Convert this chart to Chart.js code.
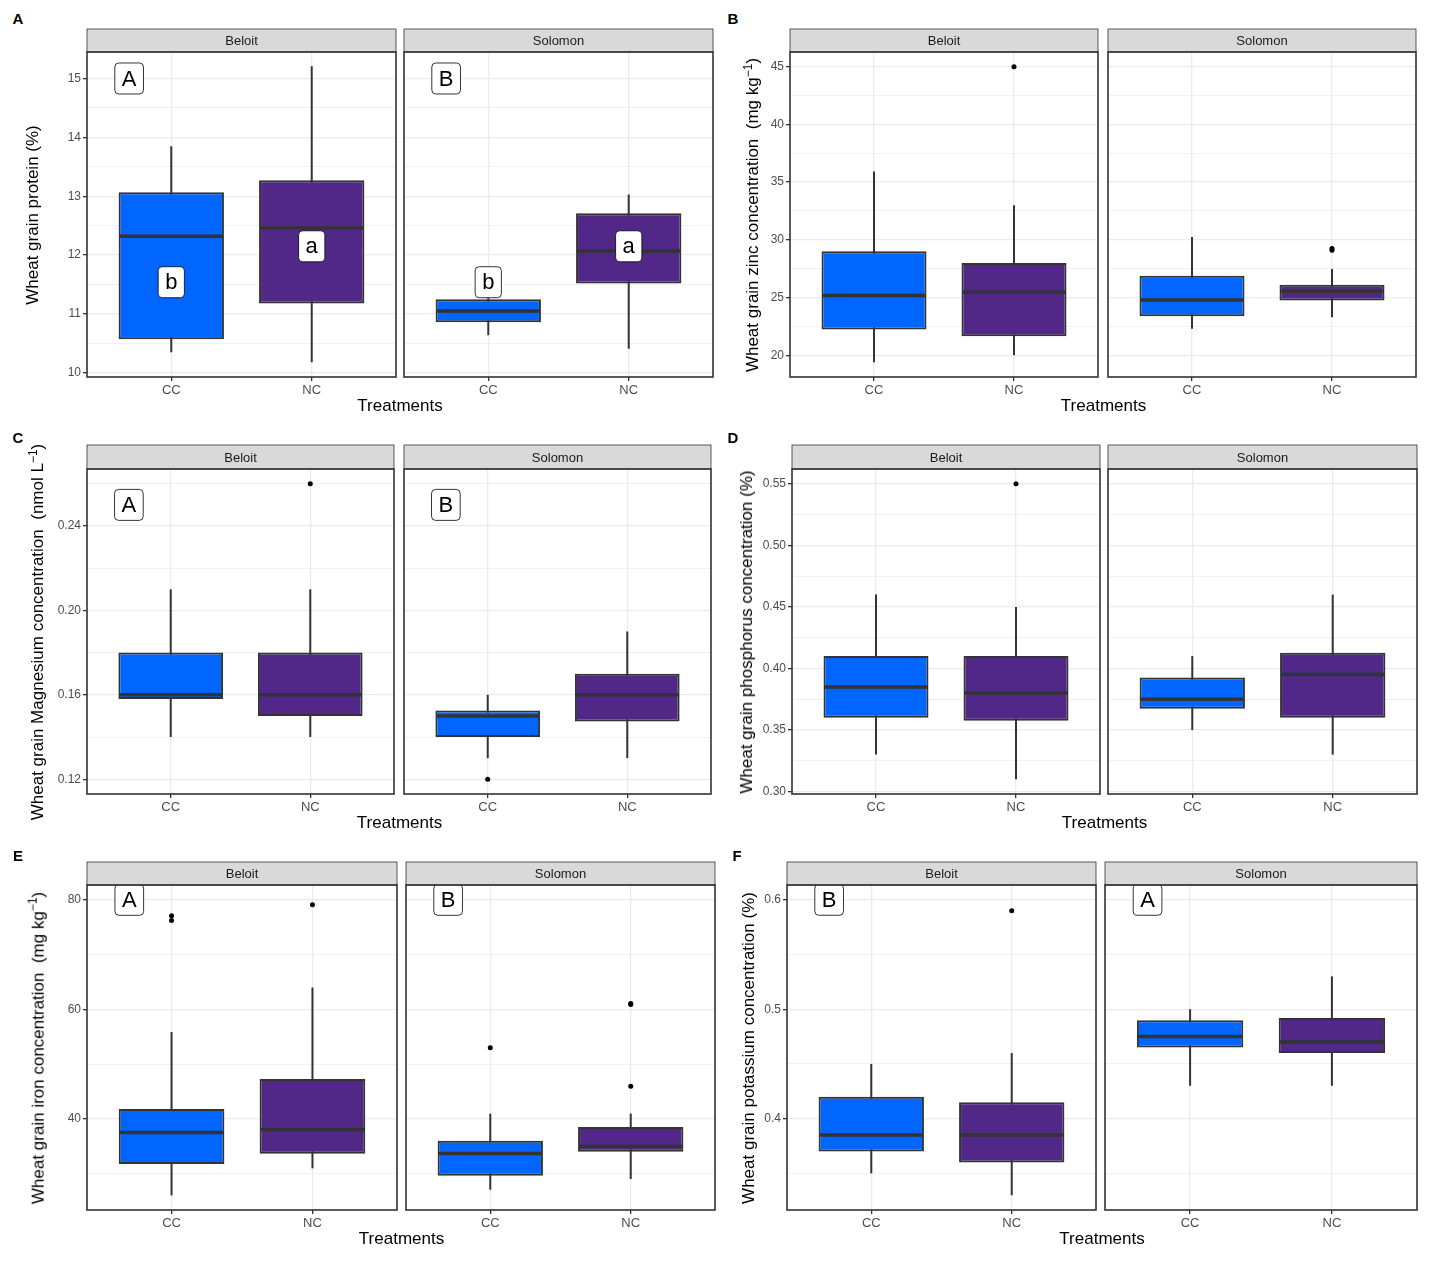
<!DOCTYPE html>
<html>
<head>
<meta charset="utf-8">
<script src="https://cdn.jsdelivr.net/npm/chart.js@4.4.1/dist/chart.umd.min.js"></script>
<style>
  body { margin: 0; background: #fff; }
  #fig { position: relative; width: 1430px; height: 1265px; font-family: 'Liberation Sans', Arial, sans-serif; color: #000; }
  #fig canvas { position: absolute; }
  .tag { position: absolute; font-weight: bold; font-size: 15px; transform: translate(-50%, -50%); }
  .xt { position: absolute; font-size: 17px; transform: translate(-50%, -50%); white-space: nowrap; }
  .yt { position: absolute; font-size: 17px; transform: translate(-50%, -50%) rotate(-90deg); white-space: nowrap; }
  .yt sup { font-size: 12px; }
</style>
</head>
<body>
<div id="fig"></div>
<script>
const treatments = ['CC', 'NC'];
const sites = ['Beloit', 'Solomon'];
const fillColors = ['#0066FF', '#512888'];

// box rows: [lower whisker, Q1, median, Q3, upper whisker], CC then NC
// A - protein
const proteinBeloit = [[10.35, 10.57, 12.32, 13.07, 13.85], [10.18, 11.18, 12.46, 13.27, 15.21]];
const proteinSolomon = [[10.64, 10.86, 11.05, 11.25, 11.27], [10.41, 11.52, 12.07, 12.71, 13.03]];
const proteinOutliers = [[[], []], [[], []]];
const proteinTicks = [10, 11, 12, 13, 14, 15];
const proteinSiteLetters = ['A', 'B'];
const proteinTrtLetters = ['b', 'a'];

// B - zinc
const zincBeloit = [[19.39, 22.23, 25.17, 29.01, 35.93], [20.0, 21.65, 25.46, 28.0, 32.99]];
const zincSolomon = [[22.29, 23.38, 24.8, 26.88, 30.25], [23.29, 24.74, 25.54, 26.1, 27.48]];
const zincOutliers = [[[], [45.0]], [[], [29.1, 29.25]]];
const zincTicks = [20, 25, 30, 35, 40, 45];

// C - magnesium
const magBeloit = [[0.14, 0.158, 0.16, 0.18, 0.21], [0.14, 0.15, 0.16, 0.18, 0.21]];
const magSolomon = [[0.13, 0.14, 0.15, 0.1526, 0.16], [0.13, 0.1474, 0.16, 0.17, 0.19]];
const magOutliers = [[[], [0.26]], [[0.12], []]];
const magTicks = [0.12, 0.16, 0.20, 0.24];
const magSiteLetters = ['A', 'B'];

// D - phosphorus
const phosBeloit = [[0.33, 0.36, 0.385, 0.41, 0.46], [0.31, 0.3575, 0.38, 0.41, 0.45]];
const phosSolomon = [[0.35, 0.3672, 0.375, 0.3926, 0.41], [0.33, 0.36, 0.395, 0.4128, 0.46]];
const phosOutliers = [[[], [0.55]], [[], []]];
const phosTicks = [0.30, 0.35, 0.40, 0.45, 0.50, 0.55];

// E - iron
const ironBeloit = [[26.07, 31.79, 37.56, 41.82, 55.87], [31.0, 33.67, 38.1, 47.3, 64.0]];
const ironSolomon = [[27.1, 29.66, 33.69, 36.04, 40.97], [29.06, 34.04, 35.0, 38.54, 41.0]];
const ironOutliers = [[[76.2, 77.1], [79.1]], [[53.0], [46.0, 60.9, 61.1]]];
const ironTicks = [40, 60, 80];
const ironSiteLetters = ['A', 'B'];

// F - potassium
const potBeloit = [[0.35, 0.37, 0.385, 0.42, 0.45], [0.33, 0.36, 0.385, 0.415, 0.46]];
const potSolomon = [[0.43, 0.465, 0.475, 0.49, 0.5], [0.43, 0.46, 0.47, 0.492, 0.53]];
const potOutliers = [[[], [0.59]], [[], []]];
const potTicks = [0.4, 0.5, 0.6];
const potSiteLetters = ['B', 'A'];

// layout of the six panels
const panels = [
  { tag: 'A', tagX: 18, tagY: 18, titleX: 33, title: 'Wheat grain protein (%)',
    boxes: [proteinBeloit, proteinSolomon], outliers: proteinOutliers, ticks: proteinTicks, digits: 0,
    yMin: 9.93, yMax: 15.45, stripTop: 29, top: 52, bottom: 377, lefts: [87, 404], rights: [396, 713],
    siteLetters: proteinSiteLetters, siteLetterY: 15, trtLetters: proteinTrtLetters, trtLetterY: [11.54, 12.15] },
  { tag: 'B', tagX: 733, tagY: 18, titleX: 752, title: 'Wheat grain zinc concentration&nbsp; (mg kg<sup>\u22121</sup>)',
    boxes: [zincBeloit, zincSolomon], outliers: zincOutliers, ticks: zincTicks, digits: 0,
    yMin: 18.12, yMax: 46.27, stripTop: 29, top: 52, bottom: 377, lefts: [790, 1107], rights: [1099, 1417] },
  { tag: 'C', tagX: 18, tagY: 437, titleX: 37, title: 'Wheat grain Magnesium concentration&nbsp; (nmol L<sup>\u22121</sup>)',
    boxes: [magBeloit, magSolomon], outliers: magOutliers, ticks: magTicks, digits: 2,
    yMin: 0.113, yMax: 0.267, stripTop: 445, top: 469, bottom: 794, lefts: [87, 403], rights: [395, 712],
    siteLetters: magSiteLetters, siteLetterY: 0.25 },
  { tag: 'D', tagX: 733, tagY: 437, titleX: 747, title: 'Wheat grain phosphorus concentration (%)',
    boxes: [phosBeloit, phosSolomon], outliers: phosOutliers, ticks: phosTicks, digits: 2,
    yMin: 0.298, yMax: 0.562, stripTop: 445, top: 469, bottom: 794, lefts: [792, 1108], rights: [1101, 1417] },
  { tag: 'E', tagX: 18, tagY: 855, titleX: 37, title: 'Wheat grain iron concentration&nbsp; (mg kg<sup>\u22121</sup>)',
    boxes: [ironBeloit, ironSolomon], outliers: ironOutliers, ticks: ironTicks, digits: 0,
    yMin: 23.4, yMax: 82.7, stripTop: 862, top: 885, bottom: 1210, lefts: [87, 405], rights: [398, 716],
    siteLetters: ironSiteLetters, siteLetterY: 80 },
  { tag: 'F', tagX: 737, tagY: 855, titleX: 749, title: 'Wheat grain potassium concentration (%)',
    boxes: [potBeloit, potSolomon], outliers: potOutliers, ticks: potTicks, digits: 1,
    yMin: 0.3165, yMax: 0.6135, stripTop: 862, top: 885, bottom: 1210, lefts: [787, 1105], rights: [1097, 1417],
    siteLetters: potSiteLetters, siteLetterY: 0.6 }
];

const FONT = "'Liberation Sans', Arial, sans-serif";
const fig = document.getElementById('fig');

function roundBox(ctx, x, y, w, h, r) {
  ctx.beginPath();
  ctx.moveTo(x + r, y);
  ctx.arcTo(x + w, y, x + w, y + h, r);
  ctx.arcTo(x + w, y + h, x, y + h, r);
  ctx.arcTo(x, y + h, x, y, r);
  ctx.arcTo(x, y, x + w, y, r);
  ctx.closePath();
}

// strip, panel border and letter labels
const facetPlugin = {
  id: 'facet',
  afterDatasetsDraw(chart, args, opts) {
    const { ctx, chartArea: a, scales: { x, y } } = chart;
    const w = a.right - a.left, h = a.bottom - a.top;

    ctx.save();
    ctx.beginPath();
    ctx.rect(a.left, a.top, w, h);
    ctx.clip();
    ctx.font = '22px ' + FONT;
    ctx.textAlign = 'center';
    ctx.textBaseline = 'middle';
    opts.labels.forEach(l => {
      const px = x.getPixelForValue(l.x), py = y.getPixelForValue(l.y);
      const bw = ctx.measureText(l.text).width + 14, bh = 31;
      roundBox(ctx, px - bw / 2, py - bh / 2, bw, bh, 4);
      ctx.fillStyle = '#fff';
      ctx.fill();
      ctx.lineWidth = 0.8;
      ctx.strokeStyle = '#000';
      ctx.stroke();
      ctx.fillStyle = '#000';
      ctx.fillText(l.text, px, py + 1);
    });
    ctx.restore();

    ctx.save();
    ctx.fillStyle = '#D9D9D9';
    ctx.fillRect(a.left, a.top - opts.stripH, w, opts.stripH);
    ctx.strokeStyle = '#333';
    ctx.lineWidth = 0.8;
    ctx.strokeRect(a.left, a.top - opts.stripH, w, opts.stripH);
    ctx.lineWidth = 1.6;
    ctx.strokeRect(a.left, a.top, w, h);
    ctx.fillStyle = '#1A1A1A';
    ctx.font = '13px ' + FONT;
    ctx.textAlign = 'center';
    ctx.textBaseline = 'middle';
    ctx.fillText(opts.strip, a.left + w / 2, a.top - opts.stripH / 2 + 1);
    ctx.restore();
  }
};

function yTickList(p) {
  const list = p.ticks.map(v => ({ value: v, minor: false }));
  const step = p.ticks[1] - p.ticks[0];
  for (let k = -1; k < p.ticks.length; k++) {
    const v = p.ticks[0] + (k + 0.5) * step;
    if (v > p.yMin && v < p.yMax) list.push({ value: v, minor: true });
  }
  return list.sort((m, n) => m.value - n.value);
}

function makeFacet(p, j) {
  const axisW = j === 0 ? 42 : 0;
  const margin = 3;
  const cLeft = p.lefts[j] - axisW - margin;
  const cTop = p.stripTop - 3;
  const w = p.rights[j] - p.lefts[j] + axisW + 2 * margin;
  const h = p.bottom - cTop + 28;
  const canvas = document.createElement('canvas');
  canvas.width = w;
  canvas.height = h;
  canvas.style.left = cLeft + 'px';
  canvas.style.top = cTop + 'px';
  fig.appendChild(canvas);

  const box = p.boxes[j];
  const outs = [];
  p.outliers[j].forEach((vals, i) => vals.forEach(v => outs.push({ x: i + 1, y: v })));

  const labels = [];
  if (p.siteLetters) labels.push({ x: 0.7, y: p.siteLetterY, text: p.siteLetters[j] });
  if (p.trtLetters) p.trtLetters.forEach((t, i) => labels.push({ x: i + 1, y: p.trtLetterY[i], text: t }));

  const ticks = yTickList(p);
  const showY = j === 0;

  new Chart(canvas, {
    type: 'bar',
    data: {
      datasets: [
        {
          // whiskers
          type: 'bar',
          data: box.map((b, i) => ({ x: i + 1, y: [b[0], b[4]] })),
          backgroundColor: '#333',
          borderWidth: 0,
          maxBarThickness: 2,
          grouped: false,
          order: 3
        },
        {
          // boxes
          type: 'bar',
          data: box.map((b, i) => ({ x: i + 1, y: [b[1], b[3]] })),
          backgroundColor: fillColors,
          borderColor: '#333',
          borderWidth: 2,
          borderSkipped: false,
          barPercentage: 0.75,
          categoryPercentage: 1,
          grouped: false,
          order: 2
        },
        {
          // medians
          type: 'scatter',
          data: box.map((b, i) => ({ x: i + 1, y: b[2] })),
          pointStyle: 'line',
          pointRadius: c => {
            const xs = c.chart.scales.x;
            return Math.abs(xs.getPixelForValue(1.375) - xs.getPixelForValue(1)) - 1;
          },
          pointBorderColor: '#333',
          pointBorderWidth: 3.5,
          order: 1
        },
        {
          // outliers
          type: 'scatter',
          data: outs,
          pointRadius: 2.5,
          pointBackgroundColor: '#000',
          pointBorderWidth: 0,
          order: 0
        }
      ]
    },
    options: {
      responsive: false,
      animation: false,
      events: [],
      layout: { padding: { left: margin, right: margin, top: p.top - cTop, bottom: 0 } },
      scales: {
        x: {
          type: 'linear',
          min: 0.4,
          max: 2.6,
          offset: false,
          afterBuildTicks: s => { s.ticks = treatments.map((t, i) => ({ value: i + 1 })); },
          afterFit: s => { s.height = 28; },
          border: { display: false },
          grid: { offset: false, color: '#EBEBEB', lineWidth: 1.3, tickColor: '#333', tickLength: 4 },
          ticks: {
            autoSkip: false,
            maxRotation: 0,
            padding: 2,
            color: '#4D4D4D',
            font: { family: FONT, size: 13 },
            callback: v => treatments[Math.round(v) - 1]
          }
        },
        y: {
          type: 'linear',
          min: p.yMin,
          max: p.yMax,
          afterBuildTicks: s => { s.ticks = ticks.map(t => ({ value: t.value, minor: t.minor })); },
          afterFit: s => { s.width = axisW; },
          border: { display: false },
          grid: {
            color: '#EBEBEB',
            lineWidth: c => (c.tick && c.tick.minor ? 0.7 : 1.3),
            tickColor: c => (c.tick && !c.tick.minor ? '#333' : 'rgba(0,0,0,0)'),
            drawTicks: showY,
            tickLength: 4
          },
          ticks: {
            display: showY,
            autoSkip: false,
            padding: 2,
            color: '#4D4D4D',
            font: { family: FONT, size: 12 },
            callback: (v, i, arr) => (arr[i].minor ? '' : Number(v).toFixed(p.digits))
          }
        }
      },
      plugins: {
        legend: { display: false },
        tooltip: { enabled: false },
        facet: { strip: sites[j], stripH: p.top - p.stripTop, labels: labels }
      }
    },
    plugins: [facetPlugin]
  });
}

function addText(cls, html, x, y) {
  const d = document.createElement('div');
  d.className = cls;
  d.innerHTML = html;
  d.style.left = x + 'px';
  d.style.top = y + 'px';
  fig.appendChild(d);
}

panels.forEach(p => {
  makeFacet(p, 0);
  makeFacet(p, 1);
  addText('tag', p.tag, p.tagX, p.tagY);
  addText('yt', p.title, p.titleX, (p.top + p.bottom) / 2);
  addText('xt', 'Treatments', (p.lefts[0] + p.rights[1]) / 2, p.bottom + 29);
});
</script>
</body>
</html>
